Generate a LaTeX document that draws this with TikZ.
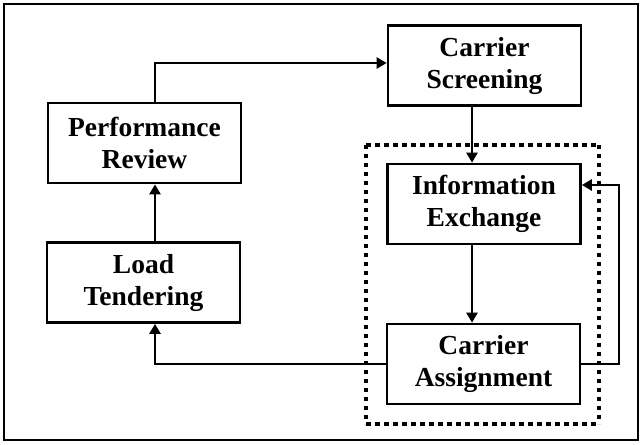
\documentclass[tikz,border=0pt]{standalone}
\usepackage{fontspec}
\setmainfont{Liberation Serif}
\usetikzlibrary{arrows.meta,calc}
\begin{document}
\begin{tikzpicture}[x=1pt,y=-1pt,
  stepbox/.style={draw,line width=2.7pt,minimum width=193pt,minimum height=80pt,
    align=center,inner sep=0pt,font=\fontsize{27.5}{32}\selectfont\bfseries},
  arr/.style={line width=2.4pt,-{Triangle[length=10pt,width=11pt]}},
  dotline/.style={line width=3.2pt,dash pattern=on 5pt off 4pt},
  dotside/.style={line width=3.2pt,dash pattern=on 4pt off 5pt}]
\useasboundingbox (0,0) rectangle (644,444);
\draw[line width=2.6pt] (4,4) rectangle (638,440);
% dotted group frame
\coordinate (g1) at (366,145);
\coordinate (g2) at (599,424);
\draw[dotline] (g1) -- (g1 -| g2);
\draw[dotline] (g1 |- g2) -- (g2);
\draw[dotside] (g1) -- (g1 |- g2);
\draw[dotside] (g1 -| g2) -- (g2);
% nodes
\node[stepbox] (pr) at (144.5,143) {Performance\\Review};
\node[stepbox] (lt) at (143.5,282.5) {Load\\Tendering};
\node[stepbox] (cs) at (484.5,65.5) {Carrier\\Screening};
\node[stepbox] (ie) at (484,204) {Information\\Exchange};
\node[stepbox] (ca) at (483.5,364) {Carrier\\Assignment};
% helper coordinates
\coordinate (lx) at (155,0);
\coordinate (rx) at (472,0);
\coordinate (fb) at (619,185);
\coordinate (topy) at (0,63);
% connectors
\draw[arr] (pr.north -| lx) -- (lx |- topy) -- (topy -| cs.west);
\draw[arr] (lt.north -| lx) -- (pr.south -| lx);
\draw[arr] (cs.south -| rx) -- (ie.north -| rx);
\draw[arr] (ie.south -| rx) -- (ca.north -| rx);
\draw[arr] (ca.west) -| (lt.south -| lx);
\draw[arr] (ca.east) -| (fb) -- (fb -| ie.east);
\end{tikzpicture}
\end{document}
